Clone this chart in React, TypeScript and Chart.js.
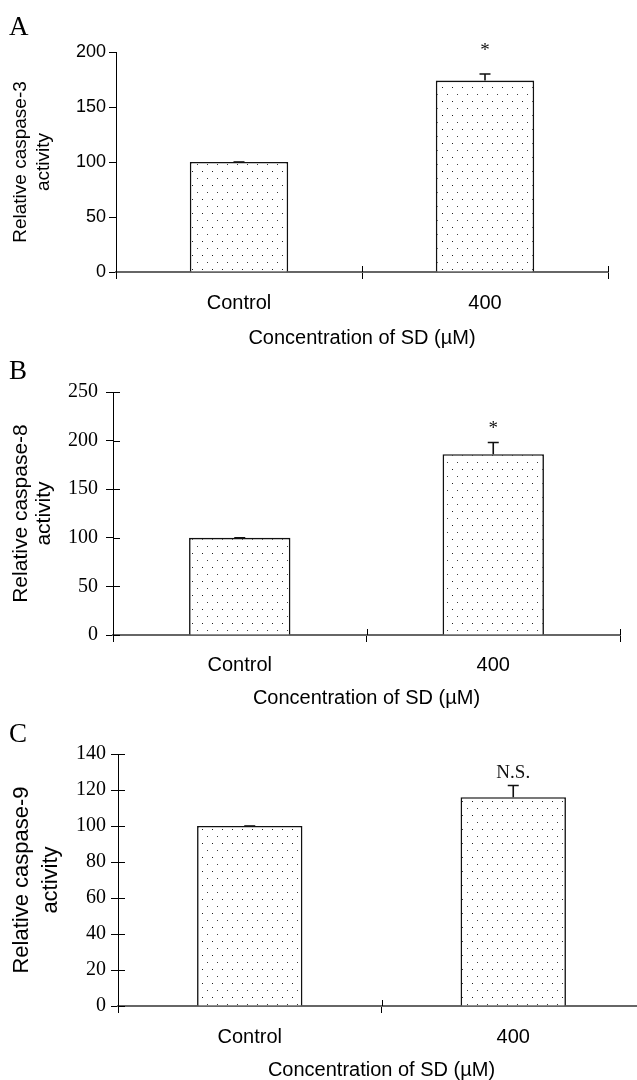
import React, { useEffect, useRef } from 'react';
import { Chart, registerables } from 'chart.js';

Chart.register(...registerables);

// ---- data ----
const categories = ['Control', '400'];
const xAxisTitle = 'Concentration of SD (µM)';

const caspase3Values = [100, 174];
const caspase3Errors = [0, 6];
const caspase3Marks = ['', '*'];
const caspase3Ticks = [0, 50, 100, 150, 200];

const caspase8Values = [100, 186];
const caspase8Errors = [0, 12];
const caspase8Marks = ['', '*'];
const caspase8Ticks = [0, 50, 100, 150, 200, 250];

const caspase9Values = [100, 116];
const caspase9Errors = [0, 6.5];
const caspase9Marks = ['', 'N.S.'];
const caspase9Ticks = [0, 20, 40, 60, 80, 100, 120, 140];

const SANS = '"Liberation Sans", Arial, Helvetica, sans-serif';
const SERIF = '"Liberation Serif", "Times New Roman", Times, serif';

const CW = 660;
const CH = 400;
const XH = 100;

const panels = [
  {
    letter: 'A', letterY: 28,
    yTitle: ['Relative caspase-3', 'activity'],
    values: caspase3Values, errors: caspase3Errors, marks: caspase3Marks, ticks: caspase3Ticks,
    canvasTop: 0, left: 116, right: 608, top: 52, bottom: 272, labelY: 303, titleY: 338,
    tickFont: { family: SANS, size: 18 }, yTickPad: 3, yCross: false, markGap: 23, markFont: '19px ' + SERIF,
    yTitleSize: 19, yTitleLH: 1.2, yTitleFirst: 20.5,
  },
  {
    letter: 'B', letterY: 372,
    yTitle: ['Relative caspase-8', 'activity'],
    values: caspase8Values, errors: caspase8Errors, marks: caspase8Marks, ticks: caspase8Ticks,
    canvasTop: 340, left: 113, right: 620, top: 392, bottom: 635, labelY: 665, titleY: 698,
    tickFont: { family: SERIF, size: 20 }, yTickPad: 8, yCross: true, markGap: 14, markFont: '19px ' + SERIF,
    yTitleSize: 21, yTitleLH: 1.1, yTitleFirst: 21.5,
  },
  {
    letter: 'C', letterY: 735,
    yTitle: ['Relative caspase-9', 'activity'],
    values: caspase9Values, errors: caspase9Errors, marks: caspase9Marks, ticks: caspase9Ticks,
    canvasTop: 700, left: 118, right: 645, top: 754, bottom: 1006, labelY: 1037, titleY: 1070,
    tickFont: { family: SERIF, size: 20 }, yTickPad: 5, yCross: true, markGap: 12, markFont: '19px ' + SERIF,
    yTitleSize: 22, yTitleLH: 1.32, yTitleFirst: 21.5,
  },
];

function makePattern(): CanvasPattern | string {
  const c = document.createElement('canvas');
  c.width = 10;
  c.height = 14;
  const g = c.getContext('2d');
  if (!g) return '#fff';
  g.fillStyle = '#ffffff';
  g.fillRect(0, 0, 10, 14);
  g.fillStyle = '#1e1e1e';
  g.fillRect(2, 3, 1, 1);
  g.fillStyle = '#404040';
  g.fillRect(7, 10, 1, 1);
  const p = g.createPattern(c, 'repeat');
  return p || '#fff';
}

function Panel({ cfg }: { cfg: any }) {
  const ref = useRef<HTMLCanvasElement | null>(null);

  useEffect(() => {
    if (!ref.current) return;
    const off = cfg.canvasTop;
    const bottomLocal = cfg.bottom - off;
    const topLocal = cfg.top - off;
    const xFontLH = 20 * 1.2;
    const scaleBottom = bottomLocal + XH;
    const titlePadBottom = scaleBottom - (cfg.titleY - off) - xFontLH / 2;
    const tickPadX = (cfg.labelY - off) - bottomLocal - 7 - xFontLH / 2;
    const yTitleLinePx = cfg.yTitleSize * cfg.yTitleLH;
    const yTitlePadTop = cfg.yTitleFirst - yTitleLinePx / 2;

    const overlay = {
      id: 'overlay',
      afterDatasetsDraw(chart: any) {
        const ctx = chart.ctx;
        const ys = chart.scales.y;
        const xs = chart.scales.x;
        const ca = chart.chartArea;
        const meta = chart.getDatasetMeta(0);
        ctx.save();
        // crossing parts of axis ticks
        ctx.strokeStyle = '#000';
        ctx.lineWidth = 1;
        ctx.beginPath();
        for (let k = 1; k <= categories.length; k++) {
          const px = Math.round(xs.getPixelForValue(k - 0.5)) + 0.5;
          ctx.moveTo(px, ca.bottom - 6);
          ctx.lineTo(px, ca.bottom);
        }
        if (cfg.yCross) {
          cfg.ticks.forEach((t: number) => {
            const py = Math.round(ys.getPixelForValue(t)) + 0.5;
            ctx.moveTo(ca.left, py);
            ctx.lineTo(ca.left + 7, py);
          });
        }
        ctx.stroke();
        // error bars and marks
        meta.data.forEach((bar: any, i: number) => {
          const x = bar.x;
          const yTop = ys.getPixelForValue(cfg.values[i]);
          const yErr = ys.getPixelForValue(cfg.values[i] + cfg.errors[i]);
          ctx.strokeStyle = '#111';
          ctx.lineWidth = 1.6;
          ctx.beginPath();
          ctx.moveTo(x, yTop);
          ctx.lineTo(x, yErr);
          ctx.moveTo(x - 5.5, yErr);
          ctx.lineTo(x + 5.5, yErr);
          ctx.stroke();
          if (cfg.marks[i]) {
            ctx.fillStyle = '#111';
            ctx.font = cfg.markFont;
            ctx.textAlign = 'center';
            ctx.textBaseline = 'middle';
            ctx.fillText(cfg.marks[i], x, yErr - cfg.markGap);
          }
        });
        // panel letter
        ctx.fillStyle = '#000';
        ctx.font = '27px ' + SERIF;
        ctx.textAlign = 'left';
        ctx.textBaseline = 'middle';
        ctx.fillText(cfg.letter, 9, cfg.letterY - off);
        ctx.restore();
      },
    };

    const chart = new Chart(ref.current, {
      type: 'bar',
      data: {
        labels: categories,
        datasets: [
          {
            data: cfg.values,
            backgroundColor: makePattern() as any,
            borderColor: '#111',
            borderWidth: 1.6,
            categoryPercentage: 1,
            barPercentage: 0.4,
          },
        ],
      },
      options: {
        responsive: false,
        animation: false,
        devicePixelRatio: 1,
        layout: {
          padding: { top: topLocal, right: CW - cfg.right, bottom: CH - bottomLocal - XH, left: 0 },
        },
        plugins: { legend: { display: false }, tooltip: { enabled: false } },
        scales: {
          x: {
            type: 'category',
            offset: true,
            grid: { offset: true, drawOnChartArea: false, drawTicks: true, tickLength: 7, color: '#000', lineWidth: 1 },
            border: { display: true, color: '#666', width: 2 },
            ticks: { color: '#000', font: { family: SANS, size: 20, lineHeight: 1.2 }, padding: tickPadX, maxRotation: 0, autoSkip: false },
            title: {
              display: true, text: xAxisTitle, color: '#000',
              font: { family: SANS, size: 20, lineHeight: 1.2 },
              padding: { top: 0, bottom: titlePadBottom },
            },
            afterFit: (s: any) => { s.height = XH; },
          },
          y: {
            min: 0,
            max: cfg.ticks[cfg.ticks.length - 1],
            afterBuildTicks: (s: any) => { s.ticks = cfg.ticks.map((v: number) => ({ value: v })); },
            grid: { drawOnChartArea: false, drawTicks: true, tickLength: 7, color: '#000', lineWidth: 1 },
            border: { display: true, color: '#000', width: 1 },
            ticks: { color: '#000', font: { ...cfg.tickFont, lineHeight: 1.2 }, padding: cfg.yTickPad },
            title: {
              display: true, text: cfg.yTitle, color: '#000',
              font: { family: SANS, size: cfg.yTitleSize, lineHeight: cfg.yTitleLH },
              padding: { top: yTitlePadTop, bottom: 0 },
            },
            afterFit: (s: any) => { s.width = cfg.left; },
          },
        },
      } as any,
      plugins: [overlay],
    });
    return () => chart.destroy();
  }, []);

  return (
    <canvas
      ref={ref}
      width={CW}
      height={CH}
      style={{ position: 'absolute', left: 0, top: cfg.canvasTop, width: CW, height: CH }}
    />
  );
}

export default function App() {
  return (
    <div style={{ position: 'absolute', left: 0, top: 0, width: 637, height: 1080, overflow: 'hidden', background: '#fff' }}>
      {panels.map((p) => (
        <Panel key={p.letter} cfg={p} />
      ))}
    </div>
  );
}
